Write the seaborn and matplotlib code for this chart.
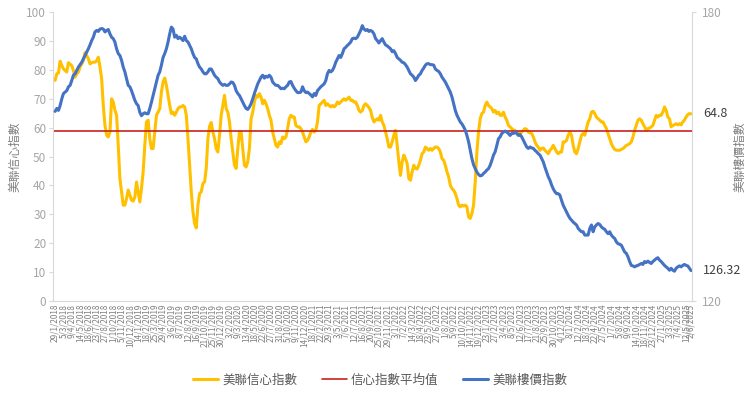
import pandas as pd
import matplotlib.pyplot as plt
from matplotlib.lines import Line2D
import seaborn as sns

# Weekly readings, first week starts 29/1/2018 (one value per week)
START_WEEK = '2018-01-29'

# 美聯信心指數 (left axis)
confidence_index = [
    76.4, 78.7, 79.0, 83.0, 81.5, 80.4, 79.8, 79.3, 82.5, 82.0,
    81.5, 79.8, 77.5, 78.7, 79.3, 81.0, 82.1, 83.2, 86.0, 85.0,
    83.9, 82.1, 82.5, 82.7, 82.7, 83.2, 84.4, 81.0, 77.0, 67.7,
    60.8, 57.4, 56.8, 58.5, 70.0, 68.9, 66.0, 64.3, 53.9, 42.4,
    37.8, 33.2, 33.2, 35.5, 38.4, 36.6, 34.9, 34.6, 36.0, 41.2,
    37.8, 34.3, 38.9, 44.7, 53.9, 62.0, 62.6, 56.2, 52.8, 52.8,
    58.5, 64.3, 65.4, 66.6, 72.4, 75.8, 77.2, 74.7, 71.2, 67.7,
    64.9, 65.4, 64.3, 65.4, 66.6, 67.2, 67.2, 67.7, 67.2, 64.3,
    56.2, 47.0, 37.8, 30.9, 26.8, 25.3, 33.2, 37.2, 37.8, 40.7,
    41.2, 45.9, 56.2, 60.5, 61.8, 58.5, 56.2, 52.8, 51.6, 57.4,
    64.3, 67.7, 71.2, 66.6, 65.4, 62.0, 56.2, 51.6, 47.0, 45.9,
    52.8, 58.5, 58.5, 52.8, 47.0, 46.4, 48.2, 52.8, 63.1, 65.4,
    68.9, 71.2, 70.6, 71.8, 70.6, 68.3, 69.5, 68.3, 66.6, 64.3,
    62.6, 58.5, 56.2, 53.9, 53.3, 55.1, 54.5, 56.8, 56.2, 56.8,
    59.7, 63.1, 64.3, 63.7, 63.7, 60.8, 60.3, 60.3, 59.7, 58.5,
    56.8, 55.1, 55.6, 56.8, 58.5, 59.4, 58.5, 59.1, 62.0, 67.7,
    68.3, 68.9, 69.5, 67.7, 68.3, 67.7, 67.2, 67.7, 67.2, 67.7,
    68.9, 68.3, 68.9, 69.5, 70.0, 69.5, 70.0, 70.6, 69.5, 69.5,
    68.9, 68.9, 67.7, 66.0, 65.4, 66.0, 67.7, 68.3, 67.7, 67.0,
    66.0, 63.5, 62.0, 62.6, 63.1, 62.6, 64.3, 62.0, 60.8, 58.5,
    56.2, 53.3, 53.3, 55.1, 57.4, 59.1, 53.9, 48.2, 43.5, 48.2,
    50.5, 49.3, 47.6, 42.4, 41.8, 44.7, 47.0, 45.9, 45.7, 47.0,
    48.7, 51.0, 51.6, 53.3, 52.8, 52.2, 52.8, 52.2, 52.8, 53.3,
    53.3, 52.8, 51.6, 49.3, 48.7, 47.0, 44.7, 43.0, 40.1, 38.9,
    38.4, 37.2, 35.5, 33.2, 32.6, 33.2, 32.9, 33.2, 32.6, 29.1,
    28.6, 30.3, 33.2, 41.2, 51.6, 58.5, 63.1, 64.9, 65.4, 67.7,
    68.9, 67.7, 67.2, 66.6, 65.4, 66.0, 64.9, 65.4, 64.3, 64.3,
    65.4, 63.7, 62.6, 60.8, 60.3, 59.7, 59.1, 59.1, 58.0, 58.5,
    58.0, 58.5, 59.1, 59.7, 59.4, 58.5, 58.2, 58.0, 56.8, 55.1,
    53.9, 53.3, 52.2, 52.8, 53.0, 52.2, 51.6, 51.0, 52.2, 52.8,
    53.9, 52.8, 51.6, 51.0, 51.6, 51.6, 55.1, 55.1, 55.6, 57.4,
    58.5, 57.4, 53.9, 51.6, 51.0, 52.8, 55.1, 57.4, 58.0, 57.4,
    59.7, 62.0, 63.1, 65.4, 65.7, 64.9, 63.7, 63.1, 62.6, 62.0,
    62.0, 60.8, 59.7, 58.0, 56.2, 54.5, 53.3, 52.5, 52.2, 52.2,
    52.2, 52.5, 52.8, 53.3, 53.9, 54.1, 54.5, 55.1, 56.8, 59.1,
    60.8, 62.6, 63.1, 62.6, 61.4, 60.3, 59.1, 59.7, 59.9, 60.3,
    60.8, 62.6, 64.3, 63.7, 64.3, 64.3, 65.4, 67.2, 66.0, 63.7,
    63.1, 60.3, 60.8, 61.0, 61.4, 61.0, 61.4, 61.0, 62.0, 62.6,
    63.7, 64.5, 64.9, 64.8,
]

# 美聯樓價指數 (right axis)
property_index = [
    159.4, 160.0, 159.6, 160.6, 162.0, 163.1, 163.4, 163.7, 164.5, 164.8,
    165.8, 166.9, 167.2, 167.9, 168.6, 169.1, 169.6, 170.3, 171.0, 171.7,
    172.4, 173.2, 174.1, 174.8, 175.9, 176.2, 176.0, 176.5, 176.6, 176.5,
    175.9, 176.2, 176.4, 175.5, 174.8, 174.5, 173.8, 172.4, 171.4, 171.0,
    170.0, 168.6, 167.6, 166.2, 164.8, 164.5, 163.7, 162.7, 161.7, 161.0,
    160.6, 159.2, 158.5, 158.9, 159.1, 158.9, 158.9, 160.0, 161.3, 162.7,
    164.1, 165.5, 166.9, 167.6, 169.0, 170.6, 171.4, 172.4, 173.8, 175.5,
    176.9, 176.5, 174.8, 175.2, 174.5, 174.8, 174.5, 174.1, 175.0, 174.1,
    173.8, 173.1, 172.4, 171.4, 170.6, 170.3, 169.3, 168.6, 168.2, 167.6,
    167.2, 167.2, 167.6, 168.2, 168.2, 167.6, 166.9, 166.5, 166.2, 165.5,
    165.1, 164.8, 165.0, 164.8, 164.8, 165.1, 165.5, 165.4, 164.8, 163.7,
    163.1, 162.7, 162.0, 161.3, 160.6, 160.0, 159.8, 160.3, 161.0, 162.0,
    163.1, 164.1, 165.1, 165.8, 166.5, 166.9, 166.3, 166.7, 166.5, 166.9,
    166.5, 165.5, 165.1, 164.8, 164.8, 164.5, 164.1, 164.2, 164.1, 164.5,
    164.8, 165.5, 165.6, 164.8, 164.2, 163.7, 163.3, 163.3, 163.4, 164.5,
    163.7, 163.3, 163.4, 163.1, 162.8, 162.4, 163.1, 162.7, 163.7, 164.1,
    164.5, 164.8, 165.1, 165.8, 167.2, 167.9, 167.6, 167.9, 168.6, 169.6,
    170.3, 171.0, 170.6, 171.4, 172.4, 172.7, 173.1, 173.4, 173.8, 174.5,
    174.6, 174.5, 174.8, 175.5, 176.2, 177.2, 176.5, 176.2, 176.4, 176.0,
    176.2, 176.0, 175.5, 174.5, 174.1, 173.6, 174.1, 174.5, 173.8, 173.2,
    173.0, 172.7, 172.4, 171.8, 172.0, 171.4, 170.6, 170.3, 170.0, 169.6,
    169.5, 169.1, 168.6, 167.9, 167.2, 166.9, 166.5, 165.8, 166.3, 166.9,
    167.2, 167.9, 168.4, 169.0, 169.3, 169.3, 169.1, 169.1, 169.0, 168.2,
    167.9, 167.7, 167.2, 166.5, 166.0, 165.5, 164.8, 164.1, 163.4, 162.4,
    161.0, 159.6, 158.6, 157.9, 157.2, 156.8, 156.2, 155.5, 154.4, 153.1,
    151.3, 149.6, 148.3, 147.5, 146.8, 146.3, 146.0, 146.1, 146.5, 146.8,
    147.2, 147.5, 148.2, 149.2, 150.3, 151.0, 152.3, 153.7, 154.1, 154.8,
    155.1, 155.3, 155.1, 154.8, 154.4, 154.8, 154.8, 155.1, 154.8, 154.4,
    154.6, 154.1, 153.4, 152.7, 152.0, 151.7, 152.0, 151.8, 151.7, 151.3,
    151.0, 150.6, 150.3, 149.6, 148.9, 147.8, 146.8, 145.8, 145.1, 144.1,
    143.3, 142.7, 142.3, 142.3, 142.0, 140.9, 139.9, 139.2, 138.5, 137.8,
    137.2, 136.8, 136.4, 136.1, 135.8, 135.1, 134.7, 134.4, 134.4, 133.7,
    133.7, 133.7, 135.1, 135.8, 134.4, 135.4, 135.8, 136.1, 135.9, 135.4,
    135.1, 134.9, 134.4, 134.0, 134.4, 133.7, 133.3, 133.0, 132.3, 131.9,
    131.8, 131.6, 130.9, 130.2, 129.9, 129.2, 128.2, 127.4, 127.3, 127.1,
    127.3, 127.4, 127.6, 127.8, 127.6, 128.2, 128.0, 128.3, 128.0, 127.8,
    128.2, 128.5, 128.8, 129.0, 128.5, 128.2, 127.8, 127.4, 127.1, 126.8,
    126.4, 126.8, 126.4, 126.2, 126.8, 127.1, 127.3, 127.1, 127.4, 127.6,
    127.4, 127.3, 126.8, 126.32,
]

# 信心指數平均值
confidence_avg = 58.8

series_names = ['美聯信心指數', '信心指數平均值', '美聯樓價指數']
series_colors = ['#FFC000', '#C8201E', '#4472C4']

left_ticks = list(range(0, 101, 10))
right_ticks = [120, 180]


def generate_confidence_vs_property_chart():
    """Line chart: Midland confidence index vs property price index, weekly 2018-2025"""
    weeks = pd.date_range(START_WEEK, periods=len(confidence_index), freq='7D')
    df = pd.DataFrame({'week': weeks,
                       'confidence': confidence_index,
                       'property': property_index})

    sns.set_style('white')
    plt.rcParams['font.family'] = ['Noto Sans CJK TC', 'DejaVu Sans']

    fig, ax = plt.subplots(figsize=(7.5, 3.93), dpi=100)
    fig.subplots_adjust(left=0.071, right=0.923, bottom=0.234, top=0.969)

    # left axis: confidence index + its average
    sns.lineplot(data=df, x='week', y='confidence', ax=ax, color=series_colors[0],
                 linewidth=2.2, legend=False)
    ax.axhline(confidence_avg, color=series_colors[1], linewidth=1.2)

    # right axis: property price index
    ax2 = ax.twinx()
    sns.lineplot(data=df, x='week', y='property', ax=ax2, color=series_colors[2],
                 linewidth=2.2, legend=False)

    ax.set_ylim(0, 100)
    ax2.set_ylim(120, 180)
    ax.set_xlim(weeks[0] - pd.Timedelta(days=8), weeks[-1] + pd.Timedelta(days=5))

    # x ticks every 5 weeks plus the last week
    tick_weeks = list(weeks[::5]) + [weeks[-1]]
    ax.set_xticks(tick_weeks)
    ax.set_xticklabels([f'{d.day}/{d.month}/{d.year}' for d in tick_weeks],
                       rotation=90, fontsize=5.9, color='#7f7f7f')
    ax.tick_params(axis='x', length=0, pad=2)

    ax.set_yticks(left_ticks)
    ax.tick_params(axis='y', length=3, color='#d9d9d9', labelsize=8.5,
                   labelcolor='#a6a6a6', pad=2)
    ax2.set_yticks(right_ticks)
    ax2.tick_params(axis='y', length=3, color='#d9d9d9', labelsize=8.5,
                    labelcolor='#a6a6a6', pad=4)

    ax.set_xlabel('')
    ax.set_ylabel('美聯信心指數', fontsize=8.5, color='#7f7f7f')
    ax2.set_ylabel('美聯樓價指數', fontsize=8.5, color='#7f7f7f')
    ax.yaxis.set_label_coords(-0.050, 0.5)
    ax2.yaxis.set_label_coords(1.064, 0.5)

    # spines like the Excel original
    for a in (ax, ax2):
        a.spines['top'].set_visible(False)
    ax.spines['right'].set_visible(False)
    ax2.spines['left'].set_visible(False)
    ax2.spines['bottom'].set_visible(False)
    ax.spines['left'].set_color('#d9d9d9')
    ax.spines['bottom'].set_color('#d9d9d9')
    ax2.spines['right'].set_color('#d9d9d9')

    # data labels at the last week
    ax.annotate(f'{confidence_index[-1]:g}', xy=(weeks[-1], confidence_index[-1]),
                xytext=(8.5, 0), textcoords='offset points', va='center', ha='left',
                fontsize=9, color='#404040')
    ax2.annotate(f'{property_index[-1]:g}', xy=(weeks[-1], property_index[-1]),
                 xytext=(8.5, 0), textcoords='offset points', va='center', ha='left',
                 fontsize=9, color='#404040')

    handles = [Line2D([], [], color=series_colors[0], linewidth=2.2),
               Line2D([], [], color=series_colors[1], linewidth=1.2),
               Line2D([], [], color=series_colors[2], linewidth=2.2)]
    leg = fig.legend(handles, series_names, loc='center', bbox_to_anchor=(0.507, 0.033),
                     ncol=3, frameon=False, fontsize=9, handlelength=2.0,
                     handletextpad=0.3, columnspacing=2.0)
    for t in leg.get_texts():
        t.set_color('#595959')

    plt.savefig('out.png', dpi=100)


if __name__ == "__main__":
    generate_confidence_vs_property_chart()
